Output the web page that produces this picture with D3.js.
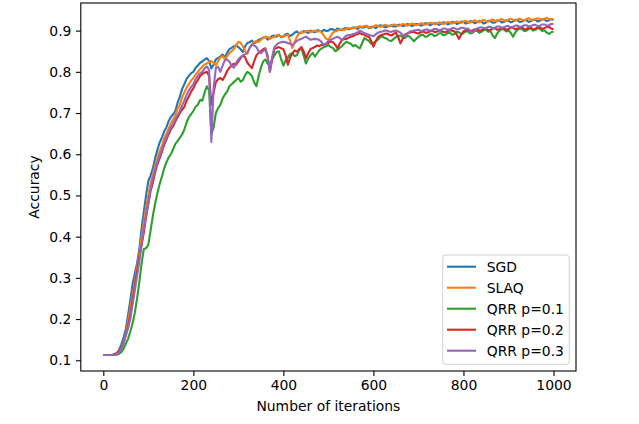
<!DOCTYPE html>
<html>
<head>
<meta charset="utf-8">
<script src="https://cdn.jsdelivr.net/npm/d3@7"></script>
<style>
  body { margin: 0; background: #fff; }
  text { font-family: 'DejaVu Sans', sans-serif; fill: #000; }
</style>
</head>
<body>
<div id="chart"></div>
<script>
// one reading every 5 iterations, 0..1000
const iterations = d3.range(0, 1001, 5)

const sgd = [
  0.113, 0.113, 0.113, 0.113, 0.113, 0.113, 0.116, 0.125, 0.138, 0.155,
  0.175, 0.21, 0.245, 0.285, 0.31, 0.335, 0.37, 0.42, 0.46, 0.5,
  0.535, 0.548, 0.565, 0.59, 0.61, 0.628, 0.64, 0.655, 0.665, 0.68,
  0.69, 0.697, 0.705, 0.725, 0.74, 0.758, 0.77, 0.783, 0.79, 0.797,
  0.80, 0.81, 0.815, 0.822, 0.825, 0.83, 0.833, 0.826, 0.808, 0.818,
  0.83, 0.834, 0.837, 0.842, 0.835, 0.846, 0.855, 0.858, 0.862, 0.864,
  0.86, 0.855, 0.848, 0.862, 0.87, 0.872, 0.876, 0.869, 0.872, 0.878,
  0.88, 0.883, 0.885, 0.878, 0.882, 0.887, 0.888, 0.885, 0.89, 0.884,
  0.886, 0.891, 0.892, 0.887, 0.89, 0.895, 0.898, 0.893, 0.895, 0.899,
  0.897, 0.894, 0.9, 0.898, 0.896, 0.901, 0.9, 0.897, 0.902, 0.899,
  0.9, 0.904, 0.903, 0.9, 0.905, 0.903, 0.901, 0.905, 0.906, 0.903,
  0.905, 0.908, 0.907, 0.904, 0.91, 0.907, 0.908, 0.911, 0.906, 0.909,
  0.909, 0.906, 0.91, 0.913, 0.912, 0.908, 0.909, 0.912, 0.913, 0.91,
  0.91, 0.914, 0.914, 0.911, 0.912, 0.916, 0.915, 0.911, 0.913, 0.916,
  0.916, 0.912, 0.914, 0.918, 0.917, 0.913, 0.915, 0.918, 0.918, 0.914,
  0.916, 0.92, 0.919, 0.915, 0.917, 0.921, 0.92, 0.916, 0.918, 0.922,
  0.921, 0.917, 0.919, 0.923, 0.922, 0.918, 0.92, 0.923, 0.922, 0.917,
  0.919, 0.924, 0.923, 0.919, 0.92, 0.925, 0.924, 0.92, 0.921, 0.925,
  0.924, 0.92, 0.922, 0.926, 0.925, 0.921, 0.922, 0.926, 0.925, 0.921,
  0.923, 0.927, 0.926, 0.922, 0.924, 0.928, 0.927, 0.923, 0.925, 0.928,
  0.926
]

const slaq = [
  0.113, 0.113, 0.113, 0.113, 0.113, 0.114, 0.115, 0.12, 0.13, 0.145,
  0.165, 0.195, 0.225, 0.26, 0.29, 0.325, 0.36, 0.4, 0.435, 0.47,
  0.5, 0.53, 0.55, 0.572, 0.59, 0.607, 0.62, 0.638, 0.65, 0.662,
  0.675, 0.684, 0.695, 0.71, 0.72, 0.738, 0.75, 0.762, 0.77, 0.779,
  0.785, 0.793, 0.80, 0.807, 0.812, 0.818, 0.82, 0.824, 0.826, 0.822,
  0.815, 0.826, 0.835, 0.838, 0.83, 0.838, 0.845, 0.85, 0.855, 0.865,
  0.873, 0.87, 0.862, 0.85, 0.845, 0.858, 0.868, 0.872, 0.875, 0.872,
  0.878, 0.882, 0.885, 0.884, 0.88, 0.883, 0.885, 0.889, 0.888, 0.886,
  0.885, 0.888, 0.89, 0.875, 0.858, 0.872, 0.885, 0.893, 0.897, 0.895,
  0.898, 0.9, 0.896, 0.899, 0.9, 0.897, 0.899, 0.895, 0.888, 0.88,
  0.878, 0.887, 0.895, 0.898, 0.9, 0.902, 0.903, 0.901, 0.905, 0.906,
  0.904, 0.907, 0.906, 0.909, 0.91, 0.909, 0.911, 0.912, 0.908, 0.906,
  0.91, 0.913, 0.912, 0.909, 0.911, 0.914, 0.913, 0.91, 0.912, 0.915,
  0.914, 0.911, 0.913, 0.916, 0.915, 0.912, 0.914, 0.917, 0.916, 0.913,
  0.915, 0.918, 0.917, 0.914, 0.916, 0.919, 0.918, 0.915, 0.917, 0.92,
  0.919, 0.916, 0.918, 0.921, 0.92, 0.917, 0.919, 0.922, 0.921, 0.918,
  0.922, 0.924, 0.921, 0.919, 0.923, 0.925, 0.922, 0.92, 0.924, 0.926,
  0.923, 0.921, 0.925, 0.927, 0.924, 0.922, 0.926, 0.928, 0.925, 0.923,
  0.927, 0.929, 0.926, 0.924, 0.927, 0.929, 0.926, 0.925, 0.928, 0.93,
  0.927, 0.925, 0.928, 0.93, 0.928, 0.926, 0.929, 0.931, 0.928, 0.927,
  0.929
]

const qrr01 = [
  0.113, 0.113, 0.113, 0.113, 0.113, 0.113, 0.114, 0.116, 0.12, 0.128,
  0.14, 0.152, 0.17, 0.19, 0.215, 0.25, 0.29, 0.335, 0.37, 0.372,
  0.38, 0.415, 0.45, 0.48, 0.505, 0.527, 0.545, 0.565, 0.58, 0.592,
  0.6, 0.612, 0.625, 0.632, 0.64, 0.648, 0.66, 0.677, 0.69, 0.697,
  0.705, 0.715, 0.72, 0.732, 0.73, 0.75, 0.765, 0.755, 0.648, 0.665,
  0.70, 0.712, 0.72, 0.735, 0.745, 0.752, 0.765, 0.77, 0.775, 0.78,
  0.785, 0.776, 0.78, 0.792, 0.80, 0.796, 0.79, 0.775, 0.765, 0.79,
  0.81, 0.825, 0.83, 0.82, 0.815, 0.83, 0.84, 0.848, 0.85, 0.83,
  0.815, 0.828, 0.835, 0.843, 0.845, 0.838, 0.84, 0.852, 0.857, 0.84,
  0.82, 0.832, 0.84, 0.846, 0.837, 0.845, 0.853, 0.857, 0.86, 0.862,
  0.865, 0.86, 0.858, 0.85, 0.853, 0.858, 0.862, 0.868, 0.873, 0.87,
  0.868, 0.862, 0.865, 0.86, 0.857, 0.87, 0.882, 0.878, 0.875, 0.868,
  0.87, 0.874, 0.878, 0.884, 0.886, 0.882, 0.88, 0.876, 0.875, 0.88,
  0.884, 0.887, 0.888, 0.884, 0.882, 0.887, 0.886, 0.88, 0.874, 0.88,
  0.885, 0.889, 0.89, 0.885, 0.886, 0.891, 0.892, 0.887, 0.888, 0.893,
  0.894, 0.889, 0.89, 0.894, 0.895, 0.89, 0.892, 0.897, 0.896, 0.891,
  0.894, 0.898, 0.898, 0.893, 0.895, 0.899, 0.9, 0.895, 0.897, 0.901,
  0.902, 0.897, 0.899, 0.888, 0.882, 0.893, 0.9, 0.904, 0.903, 0.898,
  0.9, 0.895, 0.885, 0.895, 0.902, 0.905, 0.904, 0.899, 0.9, 0.904,
  0.905, 0.9, 0.902, 0.906, 0.904, 0.899, 0.901, 0.895, 0.892, 0.896,
  0.898
]

const qrr02 = [
  0.113, 0.113, 0.113, 0.113, 0.113, 0.115, 0.118, 0.123, 0.13, 0.142,
  0.16, 0.183, 0.21, 0.245, 0.28, 0.315, 0.35, 0.38, 0.41, 0.448,
  0.48, 0.51, 0.53, 0.555, 0.575, 0.59, 0.605, 0.622, 0.635, 0.648,
  0.66, 0.668, 0.68, 0.69, 0.70, 0.708, 0.715, 0.73, 0.74, 0.752,
  0.76, 0.772, 0.78, 0.79, 0.795, 0.798, 0.80, 0.79, 0.72, 0.75,
  0.775, 0.782, 0.785, 0.78, 0.79, 0.802, 0.81, 0.815, 0.82, 0.817,
  0.825, 0.833, 0.84, 0.835, 0.822, 0.815, 0.809, 0.825, 0.84, 0.846,
  0.85, 0.855, 0.857, 0.835, 0.8, 0.83, 0.855, 0.858, 0.86, 0.857,
  0.855, 0.84, 0.817, 0.835, 0.845, 0.852, 0.849, 0.855, 0.86, 0.85,
  0.833, 0.845, 0.855, 0.858, 0.86, 0.864, 0.862, 0.866, 0.865, 0.868,
  0.87, 0.874, 0.872, 0.866, 0.857, 0.868, 0.877, 0.879, 0.88, 0.883,
  0.885, 0.887, 0.89, 0.892, 0.894, 0.891, 0.89, 0.886, 0.885, 0.875,
  0.861, 0.874, 0.884, 0.888, 0.89, 0.892, 0.893, 0.89, 0.888, 0.892,
  0.895, 0.885, 0.869, 0.88, 0.89, 0.893, 0.895, 0.897, 0.897, 0.894,
  0.893, 0.896, 0.898, 0.895, 0.895, 0.898, 0.9, 0.897, 0.897, 0.9,
  0.9, 0.897, 0.896, 0.899, 0.901, 0.9, 0.898, 0.89, 0.88, 0.89,
  0.898, 0.901, 0.902, 0.899, 0.9, 0.903, 0.904, 0.9, 0.901, 0.904,
  0.905, 0.901, 0.902, 0.905, 0.906, 0.902, 0.903, 0.906, 0.906, 0.902,
  0.904, 0.907, 0.907, 0.903, 0.905, 0.908, 0.908, 0.903, 0.904, 0.907,
  0.907, 0.903, 0.905, 0.908, 0.908, 0.904, 0.906, 0.909, 0.909, 0.905,
  0.903
]

const qrr03 = [
  0.113, 0.113, 0.113, 0.113, 0.113, 0.114, 0.115, 0.12, 0.128, 0.142,
  0.16, 0.178, 0.2, 0.235, 0.27, 0.305, 0.34, 0.38, 0.42, 0.452,
  0.48, 0.515, 0.54, 0.562, 0.58, 0.597, 0.61, 0.627, 0.64, 0.652,
  0.665, 0.674, 0.685, 0.695, 0.705, 0.718, 0.73, 0.744, 0.755, 0.763,
  0.77, 0.782, 0.79, 0.797, 0.80, 0.808, 0.813, 0.805, 0.63, 0.76,
  0.81, 0.812, 0.80, 0.815, 0.828, 0.83, 0.825, 0.815, 0.81, 0.822,
  0.83, 0.836, 0.84, 0.843, 0.845, 0.858, 0.866, 0.864, 0.86, 0.85,
  0.845, 0.85, 0.855, 0.84, 0.80, 0.835, 0.86, 0.866, 0.87, 0.872,
  0.873, 0.872, 0.87, 0.868, 0.865, 0.87, 0.875, 0.878, 0.88, 0.883,
  0.885, 0.882, 0.878, 0.879, 0.88, 0.879, 0.877, 0.872, 0.865, 0.869,
  0.875, 0.878, 0.88, 0.883, 0.885, 0.882, 0.877, 0.883, 0.888, 0.889,
  0.89, 0.892, 0.893, 0.896, 0.9, 0.897, 0.894, 0.892, 0.89, 0.888,
  0.886, 0.891, 0.895, 0.897, 0.898, 0.9, 0.9, 0.898, 0.897, 0.899,
  0.9, 0.898, 0.895, 0.89, 0.886, 0.892, 0.897, 0.899, 0.9, 0.901,
  0.902, 0.899, 0.9, 0.902, 0.903, 0.9, 0.901, 0.904, 0.904, 0.901,
  0.902, 0.905, 0.905, 0.902, 0.903, 0.906, 0.906, 0.903, 0.904, 0.907,
  0.907, 0.904, 0.905, 0.9, 0.894, 0.9, 0.905, 0.907, 0.908, 0.906,
  0.906, 0.909, 0.909, 0.906, 0.907, 0.91, 0.91, 0.907, 0.908, 0.911,
  0.911, 0.908, 0.909, 0.912, 0.912, 0.909, 0.91, 0.913, 0.913, 0.91,
  0.911, 0.914, 0.914, 0.911, 0.912, 0.915, 0.915, 0.912, 0.913, 0.916,
  0.916
]

const seriesNames = ['SGD', 'SLAQ', 'QRR p=0.1', 'QRR p=0.2', 'QRR p=0.3']
const seriesValues = [sgd, slaq, qrr01, qrr02, qrr03]
const seriesColors = ['#1f77b4', '#ff7f0e', '#2ca02c', '#d62728', '#9467bd']
const xTicks = [0, 200, 400, 600, 800, 1000]
const yTicks = [0.1, 0.2, 0.3, 0.4, 0.5, 0.6, 0.7, 0.8, 0.9]

const width = 639
const height = 424
const margin = { top: 3, right: 63, bottom: 53, left: 80.8 }
const innerW = width - margin.left - margin.right
const innerH = height - margin.top - margin.bottom
const fontSize = '13.9px'

const svg = d3.select('#chart').append('svg')
  .attr('width', width)
  .attr('height', height)

const g = svg.append('g')
  .attr('transform', `translate(${margin.left}, ${margin.top})`)

const x = d3.scaleLinear()
  .domain([-50, 1050])
  .range([0, innerW])

const y = d3.scaleLinear()
  .domain([0.074, 0.967])
  .range([innerH, 0])

// matplotlib-like axes: outward ticks, frame drawn separately
const xAxis = g.append('g')
  .attr('transform', `translate(0, ${innerH})`)
  .call(d3.axisBottom(x).tickValues(xTicks).tickSize(4.9).tickPadding(4.5).tickFormat(d3.format('d')))
const yAxis = g.append('g')
  .call(d3.axisLeft(y).tickValues(yTicks).tickSize(4.9).tickPadding(4.5).tickFormat(d3.format('.1f')))

for (const ax of [xAxis, yAxis]) {
  ax.select('.domain').remove()
  ax.selectAll('.tick line').attr('stroke', '#000').attr('stroke-width', 1.1)
  ax.selectAll('.tick text')
    .style('font-family', "'DejaVu Sans', sans-serif")
    .style('font-size', fontSize)
    .attr('fill', '#000')
}

const line = d3.line()
  .x((d, i) => x(iterations[i]))
  .y(d => y(d))

g.selectAll('.line')
  .data(seriesValues)
  .join('path')
  .attr('class', 'line')
  .attr('fill', 'none')
  .attr('stroke', (d, i) => seriesColors[i])
  .attr('stroke-width', 2.1)
  .attr('stroke-linejoin', 'round')
  .attr('d', d => line(d))

g.append('rect')
  .attr('width', innerW)
  .attr('height', innerH)
  .attr('fill', 'none')
  .attr('stroke', '#000')
  .attr('stroke-width', 1.1)

// legend
const legend = svg.append('g')
  .attr('transform', 'translate(442.7, 255)')

legend.append('rect')
  .attr('width', 126.6)
  .attr('height', 109.3)
  .attr('rx', 3)
  .attr('fill', '#fff')
  .attr('fill-opacity', 0.8)
  .attr('stroke', '#d0d0d0')
  .attr('stroke-width', 1)

legend.selectAll('g.item')
  .data(seriesNames)
  .join('g')
  .attr('class', 'item')
  .attr('transform', (d, i) => `translate(0, ${11.7 + i * 21})`)
  .each(function (name, i) {
    const item = d3.select(this)
    item.append('line')
      .attr('x1', 4.3)
      .attr('x2', 33.3)
      .attr('stroke', seriesColors[i])
      .attr('stroke-width', 2.1)
    item.append('text')
      .attr('x', 44)
      .attr('dy', '0.35em')
      .style('font-size', fontSize)
      .text(name)
  })

svg.append('text')
  .attr('x', margin.left + innerW / 2)
  .attr('y', 411)
  .attr('text-anchor', 'middle')
  .style('font-size', fontSize)
  .text('Number of iterations')

svg.append('text')
  .attr('transform', `translate(39, ${margin.top + innerH / 2}) rotate(-90)`)
  .attr('text-anchor', 'middle')
  .style('font-size', fontSize)
  .text('Accuracy')
</script>
</body>
</html>
